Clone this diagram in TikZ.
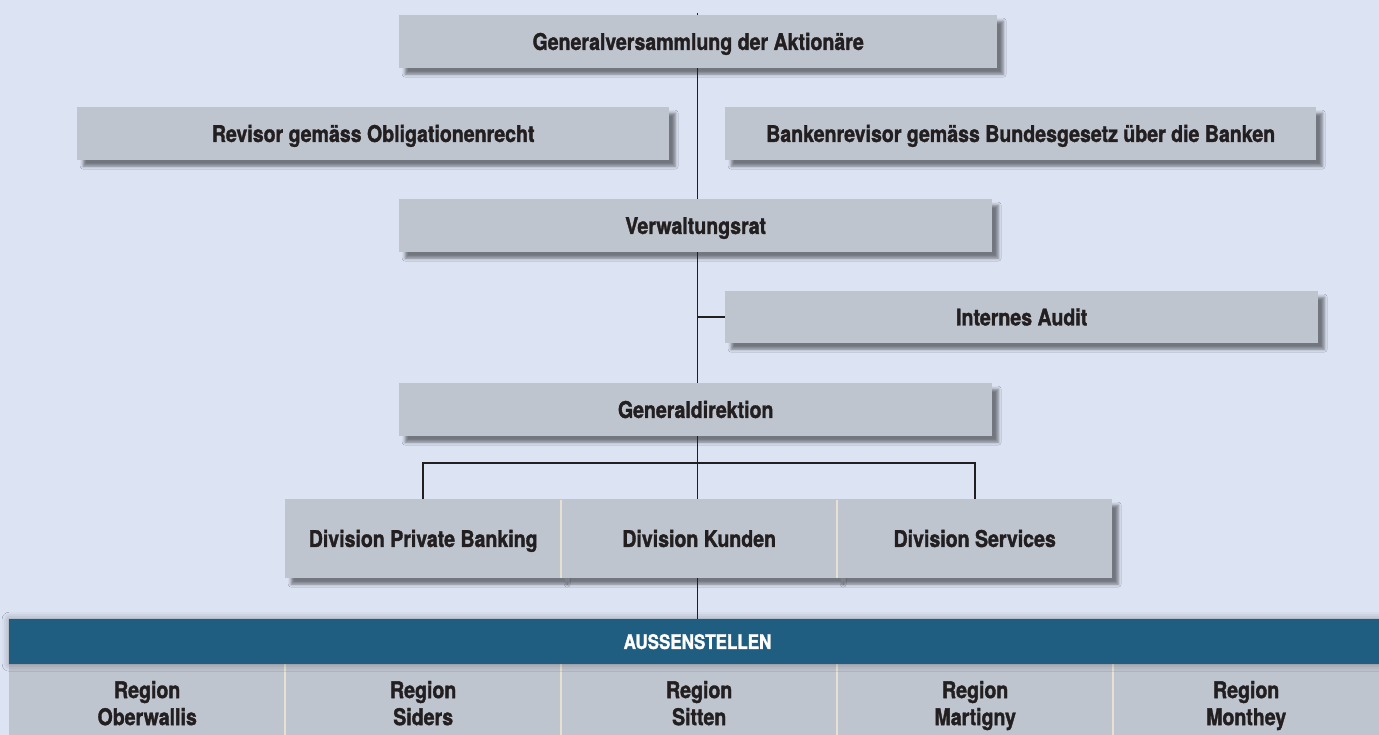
\documentclass[tikz,border=0pt]{standalone}
\usepackage{fontspec}
\setmainfont{TeX Gyre Heros}[FakeStretch=0.85, BoldFeatures={FakeBold=1.5}]
\usetikzlibrary{shadows.blur}
\definecolor{bg}{HTML}{DCE3F3}
\definecolor{boxfill}{HTML}{BFC5CF}
\definecolor{txt}{HTML}{231F20}
\definecolor{barblue}{HTML}{1F5E80}
\definecolor{sepcol}{HTML}{E6E1D3}
\tikzset{
  orgbox/.style={anchor=north west, fill=boxfill, inner sep=0pt, text=txt,
    font=\fontsize{23}{27}\selectfont\bfseries, text height=16.5pt, text depth=0pt,
    blur shadow={shadow xshift=6pt, shadow yshift=-6pt, shadow blur radius=3pt, shadow opacity=48}},
  cell/.style={anchor=north west, fill=boxfill, inner sep=0pt, text=txt, align=center,
    font=\fontsize{23}{27}\selectfont\bfseries, minimum height=84pt},
  conn/.style={draw=txt, line width=1.6pt},
  sepline/.style={draw=sepcol, line width=2pt}
}
\begin{document}
\begin{tikzpicture}[x=1pt,y=-1pt]
\useasboundingbox (0,0) rectangle (1379,735);
\fill[bg] (0,0) rectangle (1379,735);
\coordinate (spine) at (697.5,0);
\coordinate (toptick) at (697.5,13);
\coordinate (bus) at (697.5,463);

% boxes
\node[orgbox, minimum width=598pt, minimum height=53pt] (gv) at (399,15) {Generalversammlung der Aktionäre};
\node[orgbox, minimum width=592pt, minimum height=53pt] (rev) at (77,107) {Revisor gemäss Obligationenrecht};
\node[orgbox, minimum width=591pt, minimum height=53pt] (bank) at (725,107) {Bankenrevisor gemäss Bundesgesetz über die Banken};
\node[orgbox, minimum width=593pt, minimum height=53pt] (vr) at (399,199) {Verwaltungsrat};
\node[orgbox, minimum width=593pt, minimum height=52pt] (audit) at (725,291) {Internes Audit};
\node[orgbox, minimum width=593pt, minimum height=53pt] (gd) at (399,383) {Generaldirektion};

% divisions
\node[orgbox, minimum width=276pt, minimum height=79pt] (dpb) at (285,499) {Division Private Banking};
\node[orgbox, minimum width=276pt, minimum height=79pt] (dk) at (561,499) {Division Kunden};
\node[orgbox, minimum width=275pt, minimum height=79pt] (ds) at (837,499) {Division Services};
\draw[sepline] (dpb.north east) ++(0,1) -- (dpb.south east);
\draw[sepline] (dk.north east) ++(0,1) -- (dk.south east);

% regions
\node[cell, minimum width=276pt] (r1) at (9,664) {Region\strut\\Oberwallis\strut};
\node[cell, minimum width=276pt] (r2) at (285,664) {Region\strut\\Siders\strut};
\node[cell, minimum width=276pt] (r3) at (561,664) {Region\strut\\Sitten\strut};
\node[cell, minimum width=276pt] (r4) at (837,664) {Region\strut\\Martigny\strut};
\node[cell, minimum width=268pt] (r5) at (1112,664) {Region\strut\\Monthey\strut};
\draw[sepline] (r1.north east) -- (r1.south east);
\draw[sepline] (r2.north east) -- (r2.south east);
\draw[sepline] (r3.north east) -- (r3.south east);
\draw[sepline] (r4.north east) -- (r4.south east);

% bar
\node[anchor=north west, fill=barblue, inner sep=0pt, minimum width=1390pt, minimum height=45pt,
  blur shadow={shadow xshift=0pt, shadow yshift=0pt, shadow blur radius=7pt, shadow opacity=35}] (bar) at (9,619) {};
\node[text=white, font=\fontsize{20}{24}\selectfont\bfseries, text height=14.4pt, text depth=0pt] (bartxt) at (bar.center -| spine) {AUSSENSTELLEN};

% connectors
\draw[conn] (toptick) -- (gv.north -| spine);
\draw[conn] (gv.south -| spine) -- (vr.north -| spine);
\draw[conn] (vr.south -| spine) -- (gd.north -| spine);
\draw[conn] (audit.west) -- (audit.west -| spine);
\draw[conn] (gd.south -| spine) -- (dk.north -| spine);
\draw[conn] (dpb.north) |- (bus) -| (ds.north);
\draw[conn] (dk.south -| spine) -- (bar.north -| spine);
\end{tikzpicture}
\end{document}
